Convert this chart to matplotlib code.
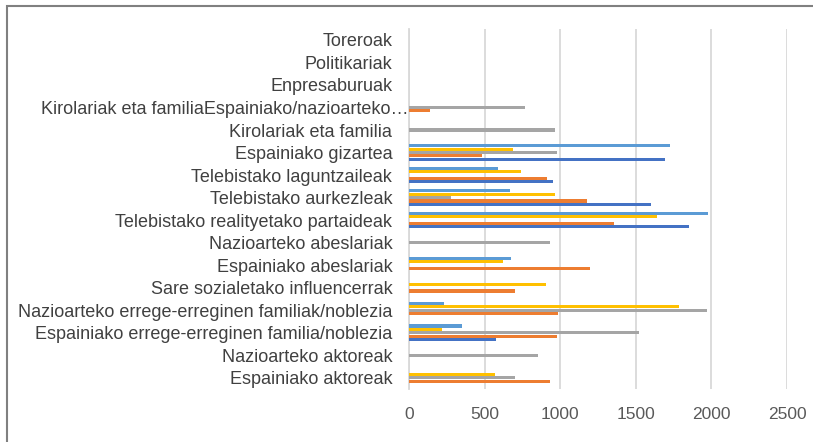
import numpy as np
import matplotlib
matplotlib.use("Agg")
import matplotlib.pyplot as plt
import matplotlib.transforms as mtransforms
from matplotlib.patches import Rectangle

plt.rcParams["font.family"] = ["Liberation Sans", "DejaVu Sans"]

# kategoriak (behetik gora)
categories = [
    "Espainiako aktoreak",
    "Nazioarteko aktoreak",
    "Espainiako errege-erreginen familia/noblezia",
    "Nazioarteko errege-erreginen familiak/noblezia",
    "Sare sozialetako influencerrak",
    "Espainiako abeslariak",
    "Nazioarteko abeslariak",
    "Telebistako realityetako partaideak",
    "Telebistako aurkezleak",
    "Telebistako laguntzaileak",
    "Espainiako gizartea",
    "Kirolariak eta familia",
    "Kirolariak eta familiaEspainiako/nazioarteko…",
    "Enpresaburuak",
    "Politikariak",
    "Toreroak",
]

# serieak (0 = baliorik ez)
s_darkblue = [0, 0, 577, 0, 0, 0, 0, 1853, 1601, 955, 1691, 0, 0, 0, 0, 0]
s_orange = [931, 0, 977, 988, 699, 1200, 0, 1355, 1180, 915, 480, 0, 142, 0, 0, 0]
s_gray = [699, 855, 1521, 1970, 0, 0, 931, 0, 277, 0, 979, 966, 765, 0, 0, 0]
s_yellow = [568, 0, 219, 1788, 909, 621, 0, 1643, 966, 743, 688, 0, 0, 0, 0, 0]
s_lightblue = [0, 0, 349, 232, 0, 677, 0, 1976, 666, 586, 1724, 0, 0, 0, 0, 0]

series = [s_darkblue, s_orange, s_gray, s_yellow, s_lightblue]
colors = ["#4472C4", "#ED7D31", "#A5A5A5", "#FFC000", "#5B9BD5"]

fig = plt.figure(figsize=(8.13, 4.42), dpi=100)
ax = fig.add_axes([409 / 813, 1 - 389 / 442, (787 - 409) / 813, (389 - 28.7) / 442])

y = np.arange(len(categories))
h = 0.15
for i, (vals, c) in enumerate(zip(series, colors)):
    ax.barh(y + (i - 2) * h, vals, height=h * 0.92, color=c, zorder=3)

ax.set_xlim(0, 2500)
ax.set_ylim(-0.5, len(categories) - 0.5)
ax.set_xticks(range(0, 2501, 500))
ax.set_yticks(y)
ax.set_yticklabels(categories, fontsize=13, color="#404040")
ax.tick_params(axis="x", labelsize=12.5, labelcolor="#595959", length=0, pad=13)
ax.tick_params(axis="y", length=0, pad=12)
ax.grid(axis="x", color="#D9D9D9", lw=1.3, zorder=0)
for s in ["top", "right", "bottom"]:
    ax.spines[s].set_visible(False)
ax.spines["left"].set_color("#D9D9D9")
ax.spines["left"].set_linewidth(1.3)

# moztutako etiketa ardatzeraino luzatzen da
lbl = ax.get_yticklabels()[12]
lbl.set_transform(lbl.get_transform() + mtransforms.ScaledTranslation(0.16, 0, fig.dpi_scale_trans))

# grafikoaren ertza
fig.patches.append(Rectangle((7 / 813, -0.1), 1.2, (442 - 6) / 442 + 0.1,
                             transform=fig.transFigure, fill=False,
                             edgecolor="#808080", lw=1.5, zorder=0))

fig.savefig("out.png", dpi=100)
